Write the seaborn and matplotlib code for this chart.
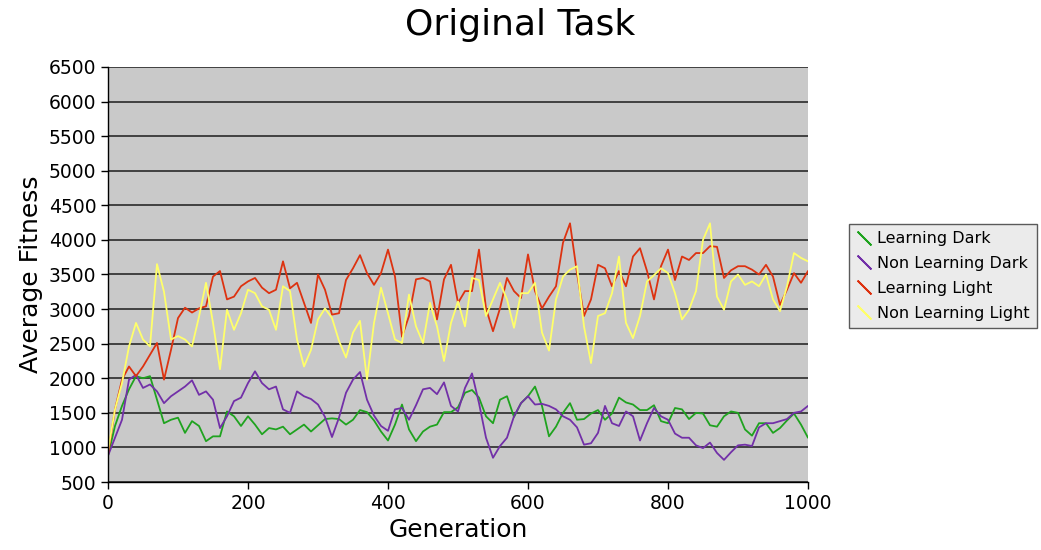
import numpy as np
import pandas as pd
import matplotlib
matplotlib.use("Agg")
import matplotlib.pyplot as plt
import seaborn as sns
from matplotlib.lines import Line2D

# generation axis, one reading every 10 generations
generation = np.arange(0, 1001, 10)

learning_dark = [
    880, 1310, 1600, 1840, 2030, 2000, 2030, 1690, 1350, 1400, 1430, 1210, 1380,
    1310, 1090, 1160, 1160, 1520, 1450, 1310, 1450, 1330, 1190, 1280, 1260,
    1300, 1190, 1260, 1330, 1230, 1320, 1410, 1420, 1410, 1330, 1400, 1540,
    1510, 1390, 1230, 1100, 1330, 1620, 1260, 1090, 1230, 1300, 1330, 1510,
    1510, 1580, 1790, 1830, 1720, 1450, 1350, 1690, 1740, 1440, 1640, 1740,
    1880, 1600, 1160, 1300, 1500, 1640, 1400, 1410, 1490, 1540, 1400, 1490,
    1720, 1650, 1620, 1540, 1540, 1610, 1380, 1350, 1570, 1550, 1410, 1500,
    1490, 1320, 1300, 1450, 1520, 1500, 1260, 1170, 1350, 1350, 1210, 1280,
    1390, 1490, 1330, 1140,
]
non_learning_dark = [
    880, 1140, 1400, 1980, 2050, 1860, 1910, 1810, 1640, 1740, 1810, 1880, 1970,
    1760, 1810, 1690, 1280, 1450, 1670, 1720, 1930, 2100, 1930, 1840, 1880,
    1550, 1500, 1810, 1740, 1700, 1620, 1440, 1150, 1430, 1790, 1980, 2090,
    1690, 1460, 1310, 1240, 1550, 1570, 1400, 1610, 1840, 1860, 1770, 1940,
    1600, 1520, 1860, 2070, 1640, 1140, 850, 1020, 1140, 1450, 1640, 1740,
    1620, 1630, 1600, 1550, 1450, 1400, 1290, 1040, 1060, 1210, 1600, 1350,
    1310, 1520, 1450, 1100, 1350, 1570, 1450, 1400, 1200, 1140, 1140, 1030,
    990, 1070, 920, 820, 930, 1030, 1040, 1020, 1290, 1350, 1350, 1380,
    1410, 1500, 1520, 1600,
]
learning_light = [
    900, 1550, 1980, 2170, 2030, 2170, 2340, 2510, 1980, 2410, 2870, 3020, 2950,
    3010, 3040, 3470, 3550, 3140, 3180, 3330, 3400, 3450, 3310, 3230, 3280,
    3690, 3300, 3380, 3090, 2800, 3500, 3280, 2920, 2940, 3420, 3590, 3780,
    3520, 3350, 3520, 3860, 3470, 2600, 2900, 3430, 3450, 3400, 2850, 3430,
    3640, 3090, 3260, 3260, 3860, 3010, 2680, 3010, 3450, 3260, 3160, 3790,
    3260, 3010, 3180, 3330, 3960, 4240, 3520, 2900, 3140, 3640, 3590, 3330,
    3550, 3330, 3760, 3880, 3550, 3140, 3620, 3860, 3420, 3760, 3710, 3810,
    3810, 3910, 3900, 3450, 3560, 3620, 3620, 3570, 3500, 3640, 3470, 3060,
    3280, 3520, 3380, 3550,
]
non_learning_light = [
    950, 1550, 1930, 2460, 2800, 2560, 2460, 3650, 3250, 2560, 2610, 2560, 2460,
    2890, 3380, 2800, 2130, 2990, 2700, 2940, 3280, 3230, 3040, 2990, 2700,
    3330, 3260, 2560, 2170, 2410, 2850, 3010, 2870, 2540, 2300, 2660, 2830,
    1980, 2800, 3310, 2940, 2560, 2510, 3210, 2750, 2510, 3090, 2750, 2250,
    2800, 3110, 2750, 3450, 3420, 2900, 3140, 3380, 3140, 2730, 3230, 3230,
    3380, 2660, 2400, 3140, 3470, 3570, 3620, 2750, 2220, 2900, 2940, 3230,
    3760, 2800, 2580, 2900, 3400, 3490, 3590, 3520, 3230, 2850, 2990, 3260,
    4000, 4240, 3180, 2990, 3400, 3500, 3350, 3400, 3330, 3500, 3140, 2970,
    3330, 3810, 3740, 3690,
]

series_names = ["Learning Dark", "Non Learning Dark", "Learning Light", "Non Learning Light"]
colors = ["#1fa31f", "#7230a8", "#dd3210", "#ffff6a"]

df = pd.concat([
    pd.DataFrame({"Generation": generation, "Average Fitness": vals, "series": name})
    for name, vals in zip(series_names,
                          [learning_dark, non_learning_dark, learning_light, non_learning_light])
])

sns.set_style("white")
plt.rcParams["font.family"] = ["DejaVu Sans"]
plt.rcParams["text.color"] = "black"
plt.rcParams["axes.labelcolor"] = "black"
plt.rcParams["xtick.color"] = "black"
plt.rcParams["ytick.color"] = "black"

fig = plt.figure(figsize=(10.41, 5.5), dpi=100)
ax = fig.add_axes([108 / 1041, 1 - 482 / 550, 700 / 1041, 415 / 550])
ax.set_facecolor("#c9c9c9")

sns.lineplot(data=df, x="Generation", y="Average Fitness", hue="series",
             hue_order=series_names, palette=dict(zip(series_names, colors)),
             linewidth=1.3, ax=ax, legend=False)

ax.set_xlim(0, 1000)
ax.set_ylim(500, 6500)
ax.set_xticks(range(0, 1001, 200))
ax.set_yticks(range(500, 6501, 500))
ax.yaxis.grid(True, color="#2a2a2a", linewidth=1.2)
ax.xaxis.grid(False)
ax.set_axisbelow(True)
for side in ["top", "right"]:
    ax.spines[side].set_visible(False)
for side in ["left", "bottom"]:
    ax.spines[side].set_color("black")
    ax.spines[side].set_linewidth(1.0)
ax.tick_params(axis="both", direction="out", length=5, width=1, color="black",
               labelsize=13.5, labelcolor="black", left=True, bottom=True)
ax.set_xlabel("Generation", fontsize=18, color="black")
ax.set_ylabel("Average Fitness", fontsize=18, color="black")
fig.suptitle("Original Task", fontsize=26, y=0.985, color="black")

handles = [Line2D([], [], color=c, marker=(2, 2, 45), linestyle="None",
                  markersize=14, markeredgewidth=1.3) for c in colors]
leg = fig.legend(handles, series_names, loc="center left",
                 bbox_to_anchor=(849 / 1041, 1 - 276 / 550),
                 fontsize=11.5, frameon=True, fancybox=False,
                 handlelength=1.0, handletextpad=0.3, labelspacing=0.62,
                 borderpad=0.45, borderaxespad=0)
for t in leg.get_texts():
    t.set_color("black")
leg.get_frame().set_facecolor("#e6e6e6")
leg.get_frame().set_edgecolor("#333333")
leg.get_frame().set_linewidth(1.0)

fig.savefig("out.png", dpi=100)
